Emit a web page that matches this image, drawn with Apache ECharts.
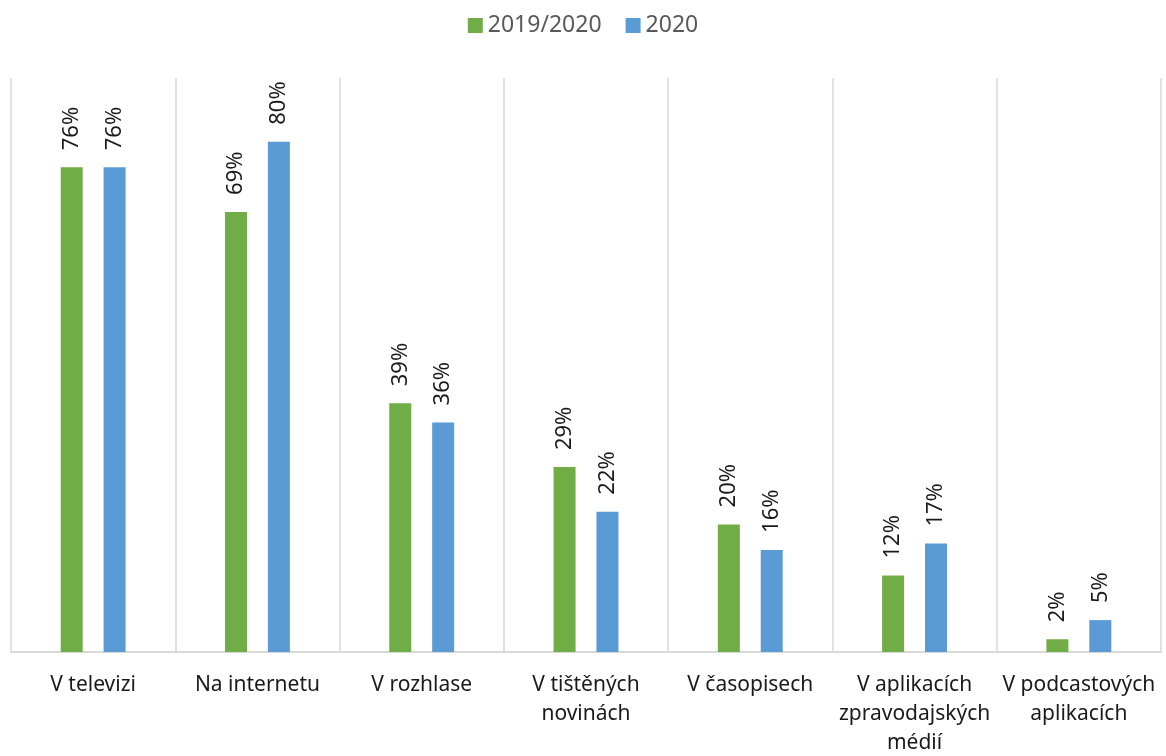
<!DOCTYPE html>
<html>
<head>
<meta charset="utf-8">
<script src="https://cdn.jsdelivr.net/npm/echarts@6/dist/echarts.min.js"></script>
<style>
html,body{margin:0;padding:0;background:#fff;}
#chart{width:1166px;height:756px;}
</style>
</head>
<body>
<div id="chart"></div>
<script>
// kategorie a hodnoty (v %)
var categories = ['V televizi', 'Na internetu', 'V rozhlase', 'V tištěných\nnovinách', 'V časopisech', 'V aplikacích\nzpravodajských\nmédií', 'V podcastových\naplikacích'];
var series2019 = [76, 69, 39, 29, 20, 12, 2];
var series2020 = [76, 80, 36, 22, 16, 17, 5];
var seriesNames = ['2019/2020', '2020'];
var colors = ['#70AD47', '#5B9BD5'];

var chart = echarts.init(document.getElementById('chart'));

function barLabel(){
	return {
		show: true,
		position: 'top',
		rotate: 90,
		align: 'left',
		verticalAlign: 'middle',
		distance: 17,
		formatter: '{c}%',
		color: '#1a1a1a',
		fontFamily: 'Noto Sans',
		fontSize: 22
	};
}

var option = {
	animation: false,
	color: colors,
	legend: {
		top: 9,
		left: 'center',
		itemWidth: 15,
		itemHeight: 15,
		itemGap: 24,
		icon: 'rect',
		textStyle: { color: '#595959', fontSize: 23, fontFamily: 'Noto Sans' },
		data: seriesNames
	},
	grid: { left: 11, right: 5, top: 78, bottom: 104, containLabel: false, outerBoundsMode: 'none' },
	xAxis: {
		type: 'category',
		data: categories,
		axisTick: { show: false },
		axisLine: { lineStyle: { color: '#d9d9d9', width: 2 } },
		splitLine: { show: true, lineStyle: { color: '#d9d9d9', width: 1.5 } },
		axisLabel: {
			interval: 0,
			margin: 19,
			color: '#1a1a1a',
			fontFamily: 'Noto Sans',
			fontSize: 21,
			lineHeight: 29
		}
	},
	yAxis: {
		type: 'value',
		min: 0,
		max: 90,
		show: false,
		splitLine: { show: false }
	},
	series: [
		{ name: seriesNames[0], type: 'bar', data: series2019, barWidth: 22, barGap: '95%', label: barLabel() },
		{ name: seriesNames[1], type: 'bar', data: series2020, barWidth: 22, barGap: '95%', label: barLabel() }
	]
};
chart.setOption(option);
</script>
</body>
</html>
